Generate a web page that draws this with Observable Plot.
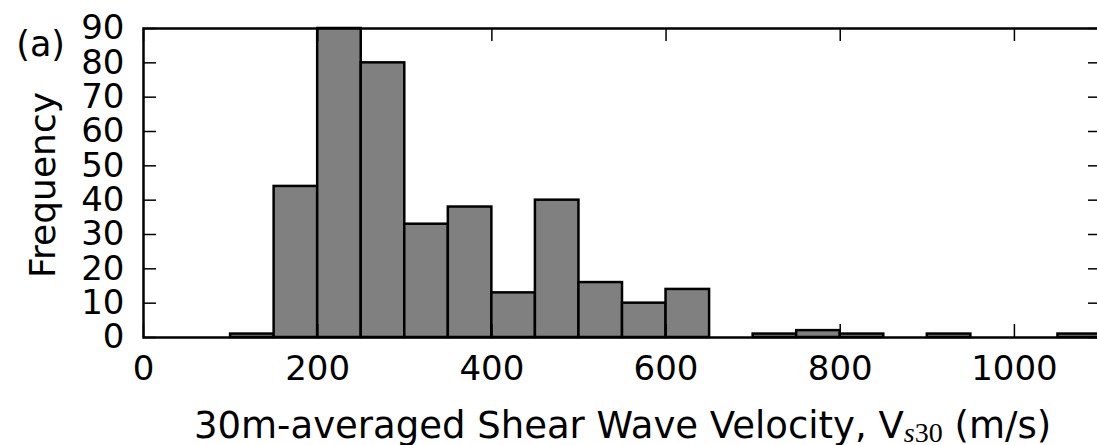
<!DOCTYPE html>
<html><head><meta charset="utf-8">
<script src="https://cdn.jsdelivr.net/npm/d3@7"></script>
<script src="https://cdn.jsdelivr.net/npm/@observablehq/plot@0.6"></script>
<style>
html,body{margin:0;padding:0;background:#fff;overflow:hidden;}
#chart{width:1097px;height:445px;overflow:hidden;}
</style></head><body><div id="chart"></div>
<script>
// ---- data ----
const binStarts = [100,150,200,250,300,350,400,450,500,550,600,650,700,750,800,850,900,950,1000,1050];
const binWidth = 50;
const counts    = [1,  44,  90,  80,  33,  38,  13,  40,  16,  10,  14,  0,   1,   2,   1,   0,   1,   0,   0,    1];
const xTicks = [0,200,400,600,800,1000];
const yTicks = [0,10,20,30,40,50,60,70,80,90];
const xDomain = [0,1100];
const yDomain = [0,90];
const panelLabel = "(a)";
const yLabel = "Frequency";
const xLabelMain = "30m-averaged Shear Wave Velocity, V";
const xLabelSubItalic = "s";
const xLabelSubRoman = "30";
const xLabelTail = " (m/s)";

const bins = binStarts.map((s,i)=>({x1:s, x2:s+binWidth, count:counts[i]}));
const FS = 34;
const W = 1097, H = 445, ML = 143, MR = -4, MT = 28, MB = 108;
const plotW = W - ML - MR, plotH = H - MT - MB;
const TICK = 13;

const plot = Plot.plot({
  width: W,
  height: H,
  marginLeft: ML,
  marginRight: MR,
  marginTop: MT,
  marginBottom: MB,
  style: {fontFamily: "DejaVu Sans", fontSize: FS + "px", background: "white", maxWidth: "none", color: "black"},
  x: {domain: xDomain, ticks: xTicks, tickSize: 0, tickPadding: 18, label: null, tickFormat: d => String(d)},
  y: {domain: yDomain, ticks: yTicks, tickSize: 0, tickPadding: 19, label: null, tickFormat: d => String(d)},
  marks: [
    Plot.rectY(bins, {x1:"x1", x2:"x2", y:"count", fill:"#808080", stroke:"black", strokeWidth:2.5}),
    // inward ticks on all four sides
    Plot.ruleX(xTicks, {stroke:"black", strokeWidth:1.5, insetTop: plotH - TICK}),
    Plot.ruleX(xTicks, {stroke:"black", strokeWidth:1.5, insetBottom: plotH - TICK}),
    Plot.ruleY(yTicks, {stroke:"black", strokeWidth:1.5, insetRight: plotW - TICK}),
    Plot.ruleY(yTicks, {stroke:"black", strokeWidth:1.5, insetLeft: plotW - TICK}),
    Plot.frame({stroke:"black", strokeWidth:2.5})
  ]
});
document.getElementById("chart").appendChild(plot);

const svg = d3.select(plot);
// y-axis title
svg.append("text")
  .attr("transform", "translate(55,185) rotate(-90)")
  .attr("text-anchor", "middle")
  .attr("font-family", "DejaVu Sans").attr("font-size", 36).attr("fill", "black")
  .text(yLabel);
// panel label
svg.append("text")
  .attr("x", 65).attr("y", 56)
  .attr("text-anchor", "end")
  .attr("font-family", "DejaVu Sans").attr("font-size", 35).attr("fill", "black")
  .text(panelLabel);
// x-axis title with math-style subscript
const t = svg.append("text")
  .attr("x", 194).attr("y", 438)
  .attr("text-anchor", "start")
  .attr("font-family", "DejaVu Sans")
  .attr("font-size", 37)
  .attr("fill", "black");
t.append("tspan").text(xLabelMain);
t.append("tspan").attr("dy", 4).attr("font-family", "Liberation Serif").attr("font-style", "italic").attr("font-size", 28).text(xLabelSubItalic);
t.append("tspan").attr("font-family", "Liberation Serif").attr("font-size", 28).text(xLabelSubRoman);
t.append("tspan").attr("dy", -4).text(xLabelTail);
</script></body></html>
